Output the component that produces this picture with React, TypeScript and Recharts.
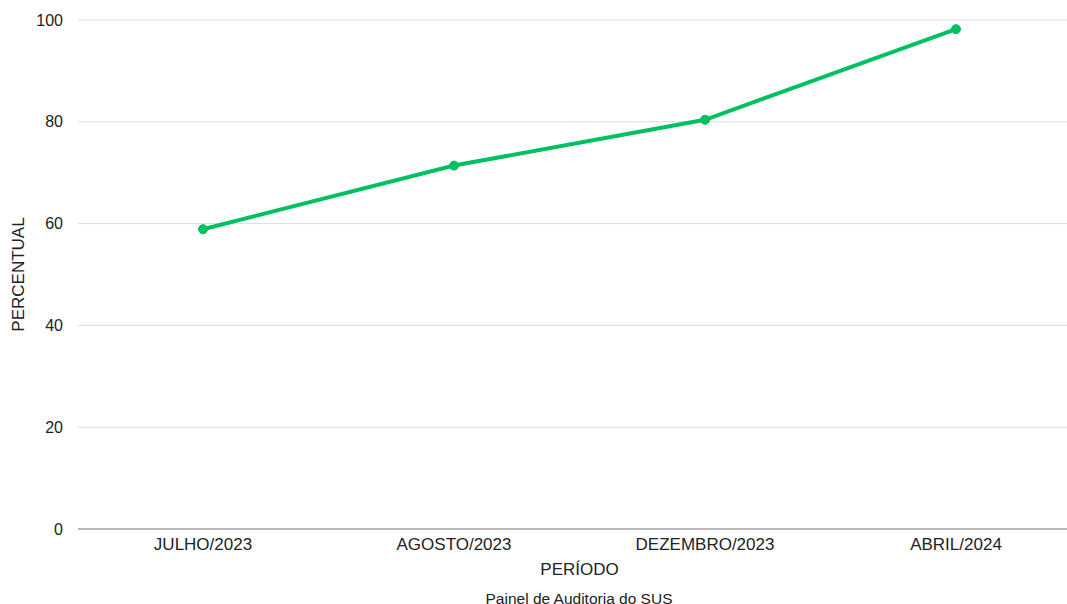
import { CartesianGrid, Line, LineChart, XAxis, YAxis } from "recharts"

const periods = ["JULHO/2023", "AGOSTO/2023", "DEZEMBRO/2023", "ABRIL/2024"]
const percentual = [58.9, 71.4, 80.4, 98.2]
const yTicks = [0, 20, 40, 60, 80, 100]

const data = periods.map((periodo, i) => ({ periodo, percentual: percentual[i] }))

const FONT = "'Liberation Sans', Arial, sans-serif"
const GREEN = "#00c060"

function YLabel({ viewBox }: any) {
  const cy = viewBox.y + viewBox.height / 2
  return (
    <text
      x={0}
      y={0}
      transform={`translate(24, ${cy}) rotate(-90)`}
      textAnchor="middle"
      fontSize={17}
      fill="#222"
      fontFamily={FONT}
    >
      PERCENTUAL
    </text>
  )
}

function XLabel({ viewBox }: any) {
  const cx = viewBox.x + viewBox.width / 2
  return (
    <text x={cx} y={viewBox.y + 46} textAnchor="middle" fontSize={17} fill="#222" fontFamily={FONT}>
      PERÍODO
    </text>
  )
}

export default function App() {
  return (
    <div
      style={{
        position: "absolute",
        left: 0,
        top: 0,
        width: 1067,
        height: 604,
        overflow: "hidden",
        background: "#fff",
        fontFamily: FONT,
      }}
    >
      <LineChart width={1081} height={604} data={data} margin={{ top: 20, right: 0, left: 0, bottom: 0 }}>
        <CartesianGrid vertical={false} stroke="#dcdcdc" />
        <XAxis
          dataKey="periodo"
          height={75}
          padding={{ left: 125, right: 125 }}
          tickLine={false}
          axisLine={{ stroke: "#b8b8b8", strokeWidth: 2 }}
          tick={{ fontSize: 17, fill: "#222", fontFamily: FONT }}
          tickMargin={3}
          interval={0}
          label={<XLabel />}
        />
        <YAxis
          width={78}
          domain={[0, 100]}
          ticks={yTicks}
          axisLine={false}
          tickLine={false}
          tick={{ fontSize: 16, fill: "#222", fontFamily: FONT }}
          tickMargin={9}
          label={<YLabel />}
        />
        <Line
          type="linear"
          dataKey="percentual"
          stroke={GREEN}
          strokeWidth={4}
          dot={{ r: 4.5, fill: GREEN, stroke: GREEN, strokeWidth: 1 }}
          activeDot={false}
          isAnimationActive={false}
        />
      </LineChart>
      <div
        style={{
          position: "absolute",
          left: 0,
          width: 1158,
          top: 590,
          textAlign: "center",
          fontSize: 15.5,
          color: "#222",
          whiteSpace: "nowrap",
        }}
      >
        Painel de Auditoria do SUS
      </div>
    </div>
  )
}
